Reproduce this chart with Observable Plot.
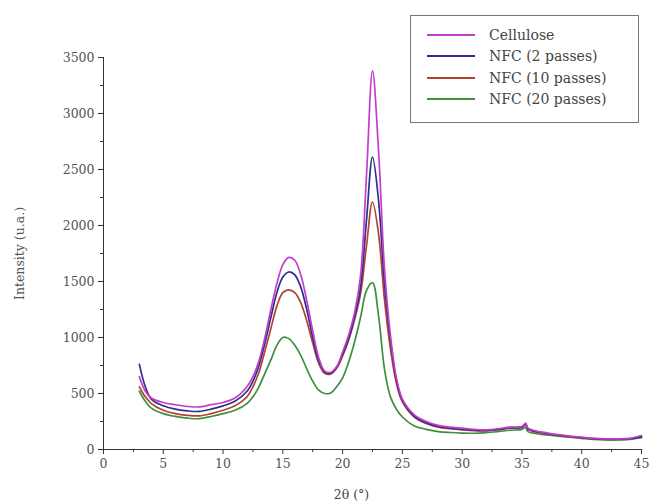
<!DOCTYPE html>
<html>
<head>
<meta charset="utf-8">
<script src="https://cdn.jsdelivr.net/npm/d3@7"></script>
<script src="https://cdn.jsdelivr.net/npm/@observablehq/plot@0.6"></script>
<style>
  body { margin: 0; background: #fff; }
  #wrap { position: relative; width: 652px; height: 503px; font-family: "DejaVu Serif", serif; }
  #chart svg, #chart svg text { font-family: "DejaVu Serif", serif !important; }
  #legend { position: absolute; left: 410px; top: 15px; width: 229px; height: 108px; border: 1px solid #777; background: #fff; box-sizing: border-box; padding: 8px 0 0 16px; font-size: 14px; color: #444; }
  #legend .row { display: flex; align-items: center; height: 21.5px; }
  #legend svg { margin-right: 14px; }
</style>
</head>
<body>
<div id="wrap">
  <div id="chart"></div>
  <div id="legend"></div>
</div>
<script>
const seriesNames = ["Cellulose", "NFC (2 passes)", "NFC (10 passes)", "NFC (20 passes)"];
const seriesColors = ["#c43ccc", "#2e2e8e", "#b04430", "#3e8f3e"];

const twoTheta = [3, 3.5, 4, 5, 6, 7, 8, 9, 10, 11, 12, 12.5, 13, 13.5, 14, 14.5, 15, 15.5, 16, 16.5, 17, 17.5, 18, 18.5, 19, 19.5, 20, 20.5, 21, 21.5, 22, 22.5, 23, 23.5, 24, 24.5, 25, 26, 27, 28, 29, 30, 31, 32, 33, 34, 35, 35.3, 35.5, 36, 37, 38, 39, 40, 41, 42, 43, 44, 45];

const cellulose = [650, 520, 460, 420, 400, 385, 380, 400, 420, 460, 560, 650, 790, 1000, 1250, 1480, 1650, 1715, 1690, 1560, 1330, 1060, 820, 700, 690, 740, 870, 1020, 1220, 1550, 2450, 3380, 2680, 1620, 1020, 640, 450, 310, 250, 215, 200, 190, 180, 175, 185, 200, 205, 235, 190, 170, 150, 132, 120, 110, 100, 95, 95, 100, 125];
const nfc2 = [760, 560, 450, 390, 360, 345, 340, 360, 390, 430, 520, 610, 750, 950, 1180, 1400, 1540, 1585, 1560, 1450, 1250, 1000, 790, 690, 680, 735, 850, 990, 1180, 1450, 2050, 2610, 2230, 1480, 980, 620, 440, 295, 238, 205, 190, 180, 172, 170, 180, 195, 200, 228, 185, 165, 145, 128, 116, 106, 97, 92, 92, 96, 115];
const nfc10 = [560, 470, 410, 350, 320, 305, 300, 320, 350, 390, 470, 560, 690, 880, 1080, 1280, 1400, 1425, 1400, 1310, 1150, 950, 770, 680, 675, 725, 835, 975, 1160, 1390, 1820, 2210, 1930, 1340, 900, 590, 425, 290, 232, 200, 186, 176, 168, 166, 176, 190, 196, 222, 180, 160, 142, 125, 113, 103, 95, 90, 90, 94, 110];
const nfc20 = [520, 430, 370, 320, 295, 280, 275, 295, 320, 350, 410, 470, 560, 680, 800, 930, 1000, 990, 930, 840, 720, 610, 530, 500, 505, 560, 640, 780, 960, 1180, 1420, 1490, 1200, 720, 470, 360, 290, 210, 180, 160, 152, 147, 145, 150, 160, 172, 180, 198, 160, 145, 130, 120, 110, 100, 90, 85, 85, 90, 105];

const xTicks = [0, 5, 10, 15, 20, 25, 30, 35, 40, 45];
const xMinorTicks = [2.5, 7.5, 12.5, 17.5, 22.5, 27.5, 32.5, 37.5, 42.5];
const yTicks = [0, 500, 1000, 1500, 2000, 2500, 3000, 3500];
const yMinorTicks = [250, 750, 1250, 1750, 2250, 2750, 3250];
const xTitle = "2θ (°)";
const yTitle = "Intensity (u.a.)";

const allSeries = [cellulose, nfc2, nfc10, nfc20];
const rows = [];
// draw order: green first, cellulose last
[3, 2, 1, 0].forEach(si => {
  twoTheta.forEach((x, i) => rows.push({x, y: allSeries[si][i], s: seriesNames[si]}));
});

const serif = "'DejaVu Serif', serif";
const plot = Plot.plot({
  width: 652,
  height: 503,
  marginLeft: 103,
  marginRight: 11,
  marginTop: 57,
  marginBottom: 54,
  style: {fontFamily: serif, fontSize: "12px", color: "#444", background: "#fff"},
  x: {domain: [0, 45]},
  y: {domain: [0, 3500]},
  color: {domain: seriesNames, range: seriesColors},
  marks: [
    Plot.line(rows, {x: "x", y: "y", z: "s", stroke: "s", strokeWidth: 1.7, curve: "catmull-rom"}),
    Plot.ruleX([0], {stroke: "#333", strokeWidth: 1}),
    Plot.ruleY([0], {stroke: "#333", strokeWidth: 1}),
    Plot.axisX({ticks: xTicks, tickFormat: d => String(d), tickSize: 5, tickPadding: 5, stroke: "#333", fill: "#555", fontSize: 12.5, fontFamily: serif, label: null}),
    Plot.axisX({ticks: xMinorTicks, tickSize: 3, text: null, label: null, stroke: "#333"}),
    Plot.axisY({ticks: yTicks, tickFormat: d => String(d), tickSize: 5, tickPadding: 4, stroke: "#333", fill: "#555", fontSize: 12.5, fontFamily: serif, label: yTitle, labelAnchor: "center", labelOffset: 88, labelArrow: "none"}),
    Plot.axisY({ticks: yMinorTicks, tickSize: 3, text: null, label: null, stroke: "#333"}),
    Plot.text([xTitle], {frameAnchor: "bottom", dx: -21, dy: 49, fill: "#444", fontSize: 12.5, fontFamily: serif})
  ]
});
document.getElementById("chart").appendChild(plot);

const legend = document.getElementById("legend");
seriesNames.forEach((name, i) => {
  const row = document.createElement("div");
  row.className = "row";
  row.innerHTML = `<svg width="48" height="4"><line x1="0" y1="2" x2="48" y2="2" stroke="${seriesColors[i]}" stroke-width="2"/></svg><span>${name}</span>`;
  legend.appendChild(row);
});
</script>
</body>
</html>
